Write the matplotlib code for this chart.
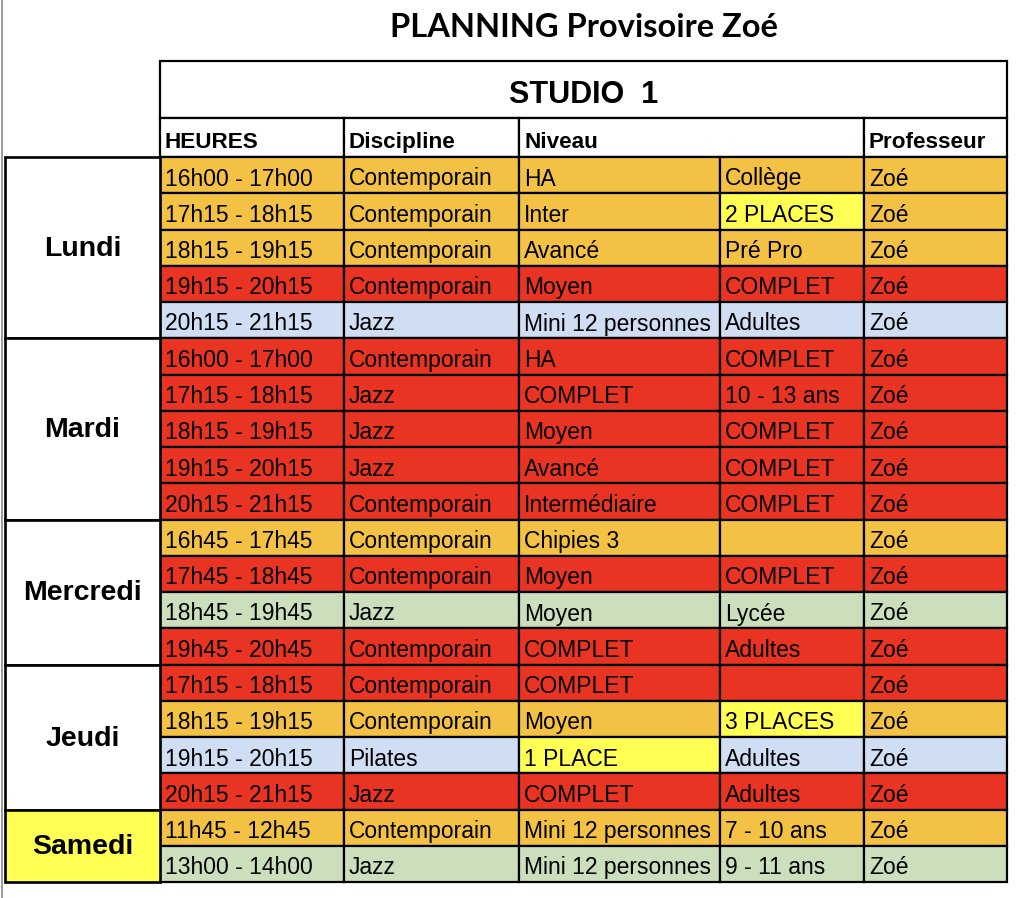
import matplotlib
matplotlib.use("Agg")
import matplotlib.pyplot as plt
from matplotlib.patches import Rectangle

# ---------------- data ----------------
title = "PLANNING Provisoire Zoé"
studio = "STUDIO  1"
headers = ["HEURES", "Discipline", "Niveau", "Professeur"]

days = ["Lundi", "Mardi", "Mercredi", "Jeudi", "Samedi"]
day_counts = [5, 5, 4, 4, 2]
day_status = ["none", "none", "none", "none", "place"]

heures = ["16h00 - 17h00", "17h15 - 18h15", "18h15 - 19h15", "19h15 - 20h15", "20h15 - 21h15",
          "16h00 - 17h00", "17h15 - 18h15", "18h15 - 19h15", "19h15 - 20h15", "20h15 - 21h15",
          "16h45 - 17h45", "17h45 - 18h45", "18h45 - 19h45", "19h45 - 20h45",
          "17h15 - 18h15", "18h15 - 19h15", "19h15 - 20h15", "20h15 - 21h15",
          "11h45 - 12h45", "13h00 - 14h00"]
disciplines = ["Contemporain", "Contemporain", "Contemporain", "Contemporain", "Jazz",
               "Contemporain", "Jazz", "Jazz", "Jazz", "Contemporain",
               "Contemporain", "Contemporain", "Jazz", "Contemporain",
               "Contemporain", "Contemporain", "Pilates", "Jazz",
               "Contemporain", "Jazz"]
niveaux = ["HA", "Inter", "Avancé", "Moyen", "Mini 12 personnes",
           "HA", "COMPLET", "Moyen", "Avancé", "Intermédiaire",
           "Chipies 3", "Moyen", "Moyen", "COMPLET",
           "COMPLET", "Moyen", "1 PLACE", "COMPLET",
           "Mini 12 personnes", "Mini 12 personnes"]
details = ["Collège", "2 PLACES", "Pré Pro", "COMPLET", "Adultes",
           "COMPLET", "10 - 13 ans", "COMPLET", "COMPLET", "COMPLET",
           "", "COMPLET", "Lycée", "Adultes",
           "", "3 PLACES", "Adultes", "Adultes",
           "7 - 10 ans", "9 - 11 ans"]
professeurs = ["Zoé"] * 20
# row status: contemporain (orange), full (red), blue, green
row_status = ["open", "open", "open", "full", "adult",
              "full", "full", "full", "full", "full",
              "open", "full", "teen", "full",
              "full", "open", "adult", "full",
              "open", "teen"]
# cells highlighted (row index, column name)
highlights = [(1, "detail"), (15, "detail"), (16, "niveau")]

palette = {"open": "#F3C143", "full": "#E93424", "adult": "#CFDEF3",
           "teen": "#CCDFBC", "place": "#FFFF54", "none": "white"}

# ---------------- layout ----------------
W, H = 1024, 898
fig = plt.figure(figsize=(W / 100, H / 100), dpi=100)
ax = fig.add_axes([0, 0, 1, 1])
ax.set_xlim(0, W)
ax.set_ylim(H, 0)
ax.axis("off")

col_x = [160, 344, 519, 720, 864, 1007]   # heures, discipline, niveau, detail, prof, end
col_names = ["heures", "discipline", "niveau", "detail", "prof"]
day_x0 = 5
top_studio, top_header, top_rows = 61, 118, 157
row_h = (882 - top_rows) / 20
lw = 1.6
body_font = "Liberation Sans"

def cell(x0, y0, x1, y1, fc, lwid=lw):
    ax.add_patch(Rectangle((x0, y0), x1 - x0, y1 - y0, facecolor=fc,
                           edgecolor="black", linewidth=lwid))

# gray left edge line
ax.plot([1.5, 1.5], [0, H], color="#8a8a8a", linewidth=1.2)

# title
ax.text((col_x[0] + col_x[-1]) / 2, 37, title, ha="center", va="baseline",
        fontsize=23.5, fontweight="bold", family="Lato")

# studio header
cell(col_x[0], top_studio, col_x[-1], top_header, "white")
ax.text((col_x[0] + col_x[-1]) / 2, 103, studio,
        ha="center", va="baseline", fontsize=22, fontweight="bold", family=body_font)

# column headers
hdr_spans = [(col_x[0], col_x[1]), (col_x[1], col_x[2]), (col_x[2], col_x[4]), (col_x[4], col_x[5])]
for (x0, x1), label in zip(hdr_spans, headers):
    cell(x0, top_header, x1, top_rows, "white")
    ax.text(x0 + 5, top_header + 30, label, ha="left", va="baseline",
            fontsize=16.2, fontweight="bold", family=body_font)

# rows
columns = [heures, disciplines, niveaux, details, professeurs]
for i in range(len(heures)):
    y0 = top_rows + i * row_h
    y1 = y0 + row_h
    for j, name in enumerate(col_names):
        fc = palette[row_status[i]]
        if (i, name) in highlights:
            fc = palette["place"]
        cell(col_x[j], y0, col_x[j + 1], y1, fc)
        ax.text(col_x[j] + 5, y0 + 28.5, columns[j][i], ha="left", va="baseline",
                fontsize=16.5, family=body_font)

# day cells
start = 0
for d, n, st in zip(days, day_counts, day_status):
    y0 = top_rows + start * row_h
    y1 = top_rows + (start + n) * row_h
    cell(day_x0, y0, col_x[0], y1, palette[st], lwid=lw * 1.2)
    ax.text((day_x0 + col_x[0]) / 2, (y0 + y1) / 2 + 8.5, d, ha="center", va="baseline",
            fontsize=20.5, fontweight="bold", family=body_font)
    start += n

fig.savefig("out.png", dpi=100, facecolor="white")
